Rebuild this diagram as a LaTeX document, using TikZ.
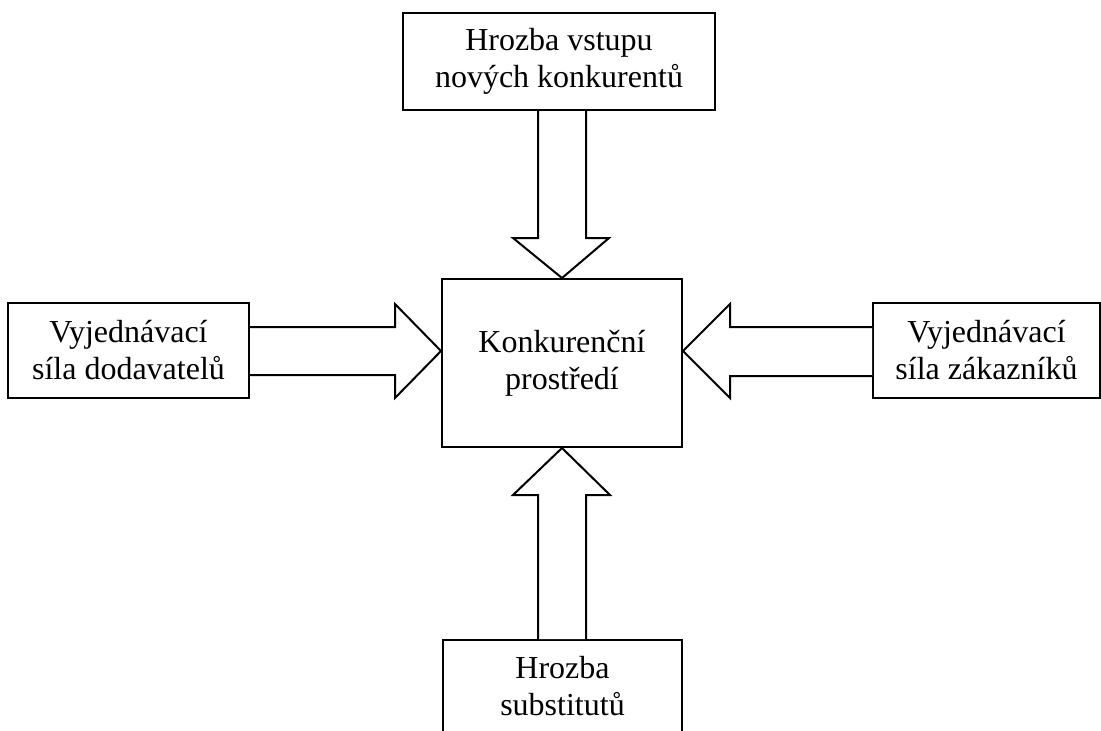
\documentclass[tikz,border=0pt]{standalone}
\usepackage{fontspec}
\setmainfont{Liberation Serif}
\usetikzlibrary{calc}
\begin{document}
\begin{tikzpicture}[x=0.5pt,y=-0.5pt,
  box/.style={draw, line width=1pt, inner sep=0pt, align=center, font=\fontsize{16}{18.5}\selectfont},
  txt/.style={inner sep=0pt, align=center, font=\fontsize{16}{18.5}\selectfont},
  blk/.style={draw, line width=1pt, line join=miter, fill=white}]
\useasboundingbox (0,0) rectangle (1101,730);
\clip (0,0) rectangle (1101,730);
\node[box, minimum width=156pt, minimum height=48.5pt] (top) at (559,61.5) {Hrozba vstupu\\nových konkurentů};
\node[box, minimum width=120pt, minimum height=84pt] (cen) at (562,363) {Konkurenční\\prostředí};
\node[box, minimum width=120.5pt, minimum height=47.5pt] (lb) at (128.5,350.5) {Vyjednávací\\síla dodavatelů};
\node[box, minimum width=113.5pt, minimum height=47.5pt] (rb) at (986.5,350.5) {Vyjednávací\\síla zákazníků};
\node[draw, line width=1pt, minimum width=119.5pt, minimum height=60pt, anchor=north] (bb) at (562.5,639) {};
\node[txt] (bbt) at (562.5,686) {Hrozba\\substitutů};
% top arrow
\draw[blk] (538,0 |- top.south) -- (538,238) -- (513,238) -- (cen.north) -- (609,238) -- (586,238) -- (586,0 |- top.south);
% bottom arrow
\draw[blk] (538,0 |- bb.north) -- (538,495) -- (513,495) -- (cen.south) -- (610,495) -- (586,495) -- (586,0 |- bb.north);
% left arrow
\draw[blk] (lb.east |- 0,327) -- (395,327) -- (395,304) -- (cen.west |- 0,351) -- (395,398) -- (395,375) -- (lb.east |- 0,375);
% right arrow
\draw[blk] (rb.west |- 0,327) -- (730,327) -- (730,304) -- (cen.east |- 0,351) -- (730,398) -- (730,376) -- (rb.west |- 0,376);
\end{tikzpicture}
\end{document}
